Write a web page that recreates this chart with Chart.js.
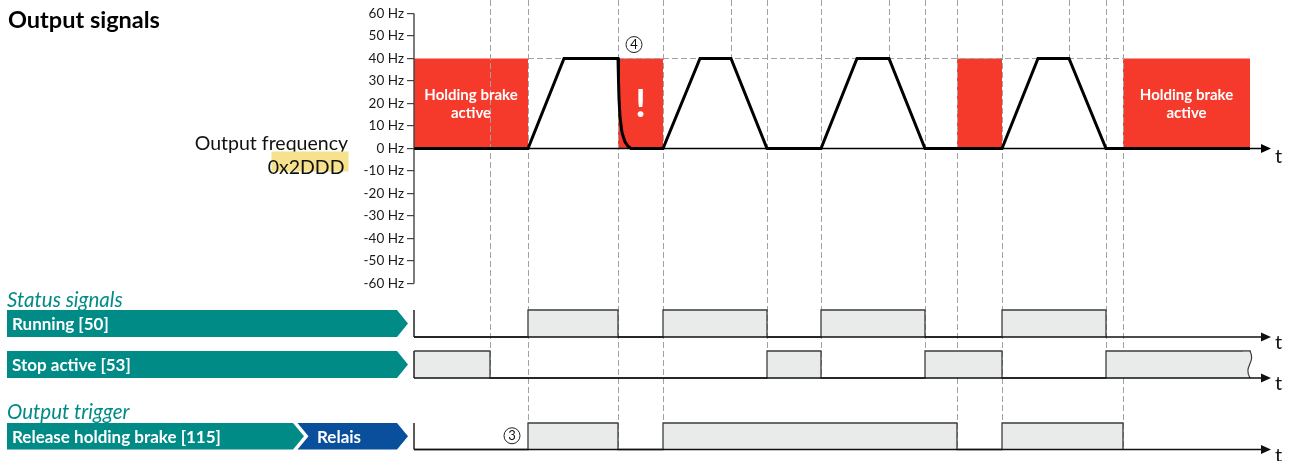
<!DOCTYPE html>
<html>
<head>
<meta charset="utf-8">
<title>Output signals</title>
<script src="https://cdn.jsdelivr.net/npm/chart.js@4.4.1/dist/chart.umd.min.js"></script>
<style>
  html, body { margin: 0; padding: 0; background: #fff; }
  canvas { display: block; }
</style>
</head>
<body>
<canvas id="signals" width="1290" height="461"></canvas>
<script>
// time in 1/10 s
const freqTime = [0, 11.4, 15.0, 20.4, 20.45, 20.5, 20.6, 20.8, 21.1, 21.4, 21.7, 24.9, 28.6, 31.7, 35.3, 40.7, 44.3, 47.5, 51.1, 58.8, 62.4, 65.5, 69.2, 83.6];
const freqHz   = [0, 0, 40, 40, 30, 22, 14, 7, 3, 1, 0, 0, 40, 40, 0, 0, 40, 40, 0, 0, 40, 40, 0, 0];
const freqTicks = [60, 50, 40, 30, 20, 10, 0, -10, -20, -30, -40, -50, -60];
const setpointHz = 40;
const timeEnd = 83.6;

// digital signals as [on, off] intervals
const running = [[11.4, 20.4], [24.9, 35.3], [40.7, 51.1], [58.8, 69.2]];
const stopActive = [[0, 7.6], [35.3, 40.7], [51.1, 58.8], [69.2, 83.6]];
const brakeReleased = [[11.4, 20.4], [24.9, 54.3], [58.8, 70.9]];

const rowLabels = ['Running [50]', 'Stop active [53]', 'Release holding brake [115]'];
const holdLabels = [['Holding brake', 'active'], ['!'], [], ['Holding brake', 'active']];

// dashed guides: time and the axis they run down to
const guideTimes = [7.6, 11.4, 20.4, 24.9, 31.7, 35.3, 40.7, 47.5, 51.1, 54.3, 58.8, 65.5, 69.2, 70.9];
const guideDepth = ['yStop', 'yBrake', 'yBrake', 'yBrake', 'setpoint', 'yStop', 'yStop', 'setpoint', 'yStop', 'yBrake', 'yBrake', 'setpoint', 'yStop', 'yBrake'];

const FONT = 'Lato';
const RED = '#f5392a';
const TEAL = '#008b87';
const BLUE = '#0a4f9c';
const BOX_FILL = '#e9ebea';
const BOX_LINE = '#3c3c3c';
const GUIDE = '#a2a2a2';

const H = 461;
const AXIS_LEFT = 414;
const T_MAX = 87.6;
const T_ARROW = 85.7;
const freqPx = { top: 13.5, bottom: 283.5 };
const rowPx = {
  yRun:   { top: 310, base: 337 },
  yStop:  { top: 351, base: 378 },
  yBrake: { top: 423, base: 449.5 }
};

Chart.defaults.font.family = FONT;

// min/max so that vLow sits at pLow and vHigh at pHigh on a full-height chart area
function fitRange(vLow, pLow, vHigh, pHigh) {
  const k = (vHigh - vLow) / (pLow - pHigh);
  return { min: vLow - (H - pLow) * k, max: vHigh + pHigh * k };
}

function toSteps(intervals, hi) {
  const pts = [];
  if (intervals[0][0] > 0) pts.push({ x: 0, y: 0 });
  intervals.forEach(([a, b]) => { pts.push({ x: a, y: hi }, { x: b, y: 0 }); });
  return pts;
}

function complement(intervals, end) {
  const out = [];
  let t = 0;
  intervals.forEach(([a, b]) => { if (a > t) out.push([t, a]); t = b; });
  if (t < end) out.push([t, end]);
  return out;
}

const holdIntervals = complement(brakeReleased, timeEnd);
const freqRange = fitRange(-60, freqPx.bottom, 60, freqPx.top);

function rowScale(id) {
  const r = fitRange(0, rowPx[id].base, 1, rowPx[id].top);
  return { type: 'linear', display: false, min: r.min, max: r.max };
}

function arrowAxis(ctx, x0, x1, y, color, tOffset) {
  ctx.strokeStyle = color;
  ctx.fillStyle = color;
  ctx.lineWidth = 1.5;
  ctx.beginPath();
  ctx.moveTo(x0, y);
  ctx.lineTo(x1 - 8, y);
  ctx.stroke();
  ctx.beginPath();
  ctx.moveTo(x1, y);
  ctx.lineTo(x1 - 10, y - 4.5);
  ctx.lineTo(x1 - 10, y + 4.5);
  ctx.closePath();
  ctx.fill();
  ctx.fillStyle = '#111';
  ctx.font = `20px ${FONT}`;
  ctx.textAlign = 'left';
  ctx.textBaseline = 'alphabetic';
  ctx.fillText('t', x1 + 4, y + tOffset);
}

function banner(ctx, x0, x1, yTop, yBot, color, notch) {
  const tip = 11;
  const mid = (yTop + yBot) / 2;
  ctx.fillStyle = color;
  ctx.beginPath();
  ctx.moveTo(x0, yTop);
  ctx.lineTo(x1 - tip, yTop);
  ctx.lineTo(x1, mid);
  ctx.lineTo(x1 - tip, yBot);
  ctx.lineTo(x0, yBot);
  if (notch) ctx.lineTo(x0 + tip, mid);
  ctx.closePath();
  ctx.fill();
}

function circled(ctx, digit, x, y) {
  ctx.strokeStyle = '#222';
  ctx.lineWidth = 1;
  ctx.beginPath();
  ctx.arc(x, y, 8, 0, Math.PI * 2);
  ctx.stroke();
  ctx.fillStyle = '#111';
  ctx.font = `13px ${FONT}`;
  ctx.textAlign = 'center';
  ctx.textBaseline = 'middle';
  ctx.fillText(digit, x, y + 0.5);
}

const decor = {
  id: 'decor',
  afterDatasetDraw(chart, args) {
    if (args.index !== 5) return; // guides go over the red brake boxes
    const { ctx, scales } = chart;
    ctx.save();
    ctx.strokeStyle = GUIDE;
    ctx.lineWidth = 1;
    ctx.setLineDash([6, 3]);
    guideTimes.forEach((t, i) => {
      const x = Math.round(scales.x.getPixelForValue(t)) + 0.5;
      const d = guideDepth[i];
      const yEnd = d === 'setpoint' ? scales.yFreq.getPixelForValue(setpointHz) : scales[d].getPixelForValue(0);
      ctx.beginPath();
      ctx.moveTo(x, 0);
      ctx.lineTo(x, yEnd);
      ctx.stroke();
    });
    ctx.restore();
  },
  afterDatasetsDraw(chart) {
    const { ctx, scales } = chart;
    const xs = scales.x, yf = scales.yFreq;
    const xEnd = xs.getPixelForValue(T_ARROW);
    ctx.save();

    // wavy end of the last stop box
    const ys = scales.yStop;
    const wx = xs.getPixelForValue(stopActive[stopActive.length - 1][1]);
    const wt = ys.getPixelForValue(1), wb = ys.getPixelForValue(0);
    ctx.fillStyle = '#fff';
    ctx.fillRect(wx - 7, wt + 1, 11, wb - wt - 2);
    ctx.beginPath();
    ctx.moveTo(wx - 7, wt + 0.7);
    ctx.lineTo(wx, wt + 0.7);
    ctx.bezierCurveTo(wx + 6, wt + 12, wx - 7, wb - 12, wx, wb);
    ctx.lineTo(wx - 7, wb);
    ctx.closePath();
    ctx.fillStyle = BOX_FILL;
    ctx.fill();
    ctx.beginPath();
    ctx.moveTo(wx, wt);
    ctx.bezierCurveTo(wx + 6, wt + 12, wx - 7, wb - 12, wx, wb);
    ctx.strokeStyle = BOX_LINE;
    ctx.lineWidth = 1.2;
    ctx.stroke();

    // frequency axis
    ctx.strokeStyle = '#444';
    ctx.lineWidth = 1.4;
    ctx.beginPath();
    ctx.moveTo(AXIS_LEFT, yf.getPixelForValue(60));
    ctx.lineTo(AXIS_LEFT, yf.getPixelForValue(-60));
    ctx.stroke();
    arrowAxis(ctx, AXIS_LEFT, xEnd, yf.getPixelForValue(0), '#000', 14);

    // signal rows
    ['yRun', 'yStop', 'yBrake'].forEach((id, i) => {
      const s = scales[id];
      const yb = s.getPixelForValue(0), yt = s.getPixelForValue(1);
      ctx.strokeStyle = '#222';
      ctx.lineWidth = 1.5;
      ctx.beginPath();
      ctx.moveTo(AXIS_LEFT, yt);
      ctx.lineTo(AXIS_LEFT, yb);
      ctx.stroke();
      arrowAxis(ctx, AXIS_LEFT, xEnd, yb, '#111', 12);

      const x1 = AXIS_LEFT - 6;
      if (id === 'yBrake') {
        banner(ctx, 7, 304, yt, yb, TEAL, false);
        banner(ctx, 297.5, x1, yt, yb, BLUE, true);
      } else {
        banner(ctx, 7, x1, yt, yb, TEAL, false);
      }
      ctx.fillStyle = '#fff';
      ctx.font = `bold 17px ${FONT}`;
      ctx.textAlign = 'left';
      ctx.textBaseline = 'middle';
      ctx.fillText(rowLabels[i], 12, (yt + yb) / 2 + 1);
      if (id === 'yBrake') ctx.fillText('Relais', 317, (yt + yb) / 2 + 1);
    });

    // texts in the brake boxes
    ctx.fillStyle = '#fff';
    ctx.textAlign = 'center';
    ctx.textBaseline = 'alphabetic';
    holdIntervals.forEach(([a, b], i) => {
      const lines = holdLabels[i] || [];
      const cx = (xs.getPixelForValue(a) + xs.getPixelForValue(b)) / 2;
      const cy = yf.getPixelForValue(20);
      if (lines.length === 1) {
        ctx.font = `bold 38px ${FONT}`;
        ctx.fillText(lines[0], cx, cy + 13);
      } else if (lines.length === 2) {
        ctx.font = `bold 15px ${FONT}`;
        ctx.fillText(lines[0], cx, cy - 4);
        ctx.fillText(lines[1], cx, cy + 14);
      }
    });

    circled(ctx, '4', xs.getPixelForValue(22.0), yf.getPixelForValue(46.2));
    circled(ctx, '3', xs.getPixelForValue(9.8), (scales.yBrake.getPixelForValue(0) + scales.yBrake.getPixelForValue(1)) / 2 - 0.5);

    // headings
    ctx.textAlign = 'left';
    ctx.fillStyle = '#000';
    ctx.font = `bold 23.5px ${FONT}`;
    ctx.fillText('Output signals', 8, 20);
    ctx.fillStyle = TEAL;
    ctx.font = `italic 20.5px ${FONT}`;
    ctx.fillText('Status signals', 7, 300);
    ctx.fillText('Output trigger', 7, 412.5);

    ctx.textAlign = 'right';
    ctx.fillStyle = '#111';
    ctx.font = `19.5px ${FONT}`;
    ctx.fillText('Output frequency', 348, 144);
    ctx.fillStyle = '#f6e28c';
    ctx.fillRect(271.5, 151.5, 77, 20);
    ctx.fillStyle = '#111';
    ctx.fillText('0x2DDD', 344.5, 167.5);

    ctx.restore();
  }
};

const freqPoints = freqTime.map((t, i) => ({ x: t, y: freqHz[i] }));

new Chart(document.getElementById('signals'), {
  type: 'line',
  data: {
    datasets: [
      { label: 'Output frequency', data: freqPoints, yAxisID: 'yFreq', borderColor: '#000', borderWidth: 3, pointRadius: 0, order: 0 },
      { label: rowLabels[0], data: toSteps(running, 1), yAxisID: 'yRun', stepped: true, fill: 'origin', backgroundColor: BOX_FILL, borderColor: BOX_LINE, borderWidth: 1.3, pointRadius: 0, order: 2 },
      { label: rowLabels[1], data: toSteps(stopActive, 1), yAxisID: 'yStop', stepped: true, fill: 'origin', backgroundColor: BOX_FILL, borderColor: BOX_LINE, borderWidth: 1.3, pointRadius: 0, order: 3 },
      { label: rowLabels[2], data: toSteps(brakeReleased, 1), yAxisID: 'yBrake', stepped: true, fill: 'origin', backgroundColor: BOX_FILL, borderColor: BOX_LINE, borderWidth: 1.3, pointRadius: 0, order: 4 },
      { label: 'Setpoint', data: [{ x: brakeReleased[0][0], y: setpointHz }, { x: brakeReleased[brakeReleased.length - 1][1], y: setpointHz }], yAxisID: 'yFreq', borderColor: GUIDE, borderWidth: 1, borderDash: [6, 3], pointRadius: 0, order: 8 },
      { label: 'Holding brake active', data: toSteps(holdIntervals, setpointHz), yAxisID: 'yFreq', stepped: true, fill: 'origin', backgroundColor: RED, borderColor: 'rgba(0,0,0,0)', borderWidth: 1, pointRadius: 0, order: 9 }
    ]
  },
  options: {
    responsive: false,
    animation: false,
    devicePixelRatio: 1,
    events: [],
    layout: { padding: 0 },
    plugins: { legend: { display: false }, tooltip: { enabled: false } },
    scales: {
      x: { type: 'linear', display: false, min: 0, max: T_MAX },
      yFreq: {
        type: 'linear',
        position: 'left',
        min: freqRange.min,
        max: freqRange.max,
        afterBuildTicks: s => { s.ticks = freqTicks.map(v => ({ value: v })); },
        afterFit: s => { s.width = AXIS_LEFT; s.paddingTop = 0; s.paddingBottom = 0; },
        ticks: { autoSkip: false, callback: v => v + ' Hz', font: { size: 13.5 }, color: '#1a1a1a', padding: 3 },
        grid: { drawOnChartArea: false, tickLength: 7, color: '#444', lineWidth: 1.2 },
        border: { display: false }
      },
      yRun: rowScale('yRun'),
      yStop: rowScale('yStop'),
      yBrake: rowScale('yBrake')
    }
  },
  plugins: [decor]
});
</script>
</body>
</html>
